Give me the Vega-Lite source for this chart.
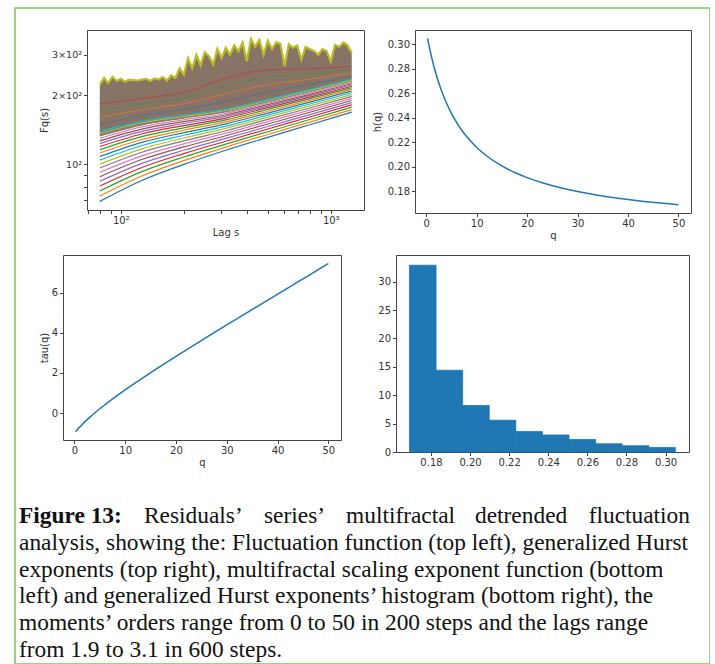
{
  "$schema": "https://vega.github.io/schema/vega-lite/v6.json",
  "background": "white",
  "padding": {"left": 15, "top": 8, "right": 0, "bottom": 0},
  "params": [{"name": "width", "value": 695}, {"name": "height", "value": 656}],
  "config": {
    "group": {"stroke": "#7cc35c", "strokeWidth": 1.5},
    "view": {"stroke": "#444444", "strokeWidth": 1},
    "axis": {"domain": false, "grid": false, "ticks": true, "tickSize": 3.5, "tickColor": "#444444", "tickWidth": 1,
      "labelFont": "DejaVu Sans", "labelFontSize": 10, "labelColor": "#333333", "labelPadding": 2,
      "titleFont": "DejaVu Sans", "titleFontSize": 10, "titleFontWeight": "normal", "titleColor": "#333333", "titlePadding": 2,
      "labelFlush": false, "labelOverlap": false},
    "text": {"font": "Liberation Serif", "fontSize": 23.4, "baseline": "alphabetic", "color": "#111111", "align": "left"}
  },
  "datasets": {
    "fq": [
      {"k":0,"s":79.4,"F":69.0},{"k":0,"s":125.9,"F":85.1},{"k":0,"s":199.5,"F":100},{"k":0,"s":316.2,"F":115.3},{"k":0,"s":501.2,"F":131.2},{"k":0,"s":794.3,"F":148.9},{"k":0,"s":1258.9,"F":169.0},
      {"k":1,"s":79.4,"F":72.8},{"k":1,"s":125.9,"F":89.0},{"k":1,"s":199.5,"F":103.8},{"k":1,"s":316.2,"F":119.0},{"k":1,"s":501.2,"F":135.0},{"k":1,"s":794.3,"F":152.9},{"k":1,"s":1258.9,"F":173.3},
      {"k":2,"s":79.4,"F":76.6},{"k":2,"s":125.9,"F":93.0},{"k":2,"s":199.5,"F":107.7},{"k":2,"s":316.2,"F":122.6},{"k":2,"s":501.2,"F":138.8},{"k":2,"s":794.3,"F":156.9},{"k":2,"s":1258.9,"F":177.5},
      {"k":3,"s":79.4,"F":80.5},{"k":3,"s":125.9,"F":97.0},{"k":3,"s":199.5,"F":111.5},{"k":3,"s":316.2,"F":126.2},{"k":3,"s":501.2,"F":142.6},{"k":3,"s":794.3,"F":160.9},{"k":3,"s":1258.9,"F":181.7},
      {"k":4,"s":79.4,"F":84.4},{"k":4,"s":125.9,"F":101.0},{"k":4,"s":199.5,"F":115.3},{"k":4,"s":316.2,"F":129.8},{"k":4,"s":501.2,"F":146.3},{"k":4,"s":794.3,"F":164.8},{"k":4,"s":1258.9,"F":185.8},
      {"k":5,"s":79.4,"F":88.4},{"k":5,"s":125.9,"F":105.0},{"k":5,"s":199.5,"F":119.2},{"k":5,"s":316.2,"F":133.3},{"k":5,"s":501.2,"F":150.0},{"k":5,"s":794.3,"F":168.7},{"k":5,"s":1258.9,"F":189.9},
      {"k":6,"s":79.4,"F":92.4},{"k":6,"s":125.9,"F":109.0},{"k":6,"s":199.5,"F":122.9},{"k":6,"s":316.2,"F":136.8},{"k":6,"s":501.2,"F":153.6},{"k":6,"s":794.3,"F":172.4},{"k":6,"s":1258.9,"F":193.9},
      {"k":7,"s":79.4,"F":96.4},{"k":7,"s":125.9,"F":113.0},{"k":7,"s":199.5,"F":126.6},{"k":7,"s":316.2,"F":140.2},{"k":7,"s":501.2,"F":157.1},{"k":7,"s":794.3,"F":176.1},{"k":7,"s":1258.9,"F":197.7},
      {"k":8,"s":79.4,"F":100.3},{"k":8,"s":125.9,"F":116.9},{"k":8,"s":199.5,"F":130.3},{"k":8,"s":316.2,"F":143.6},{"k":8,"s":501.2,"F":160.6},{"k":8,"s":794.3,"F":179.8},{"k":8,"s":1258.9,"F":201.5},
      {"k":9,"s":79.4,"F":104.4},{"k":9,"s":125.9,"F":120.9},{"k":9,"s":199.5,"F":134.0},{"k":9,"s":316.2,"F":146.9},{"k":9,"s":501.2,"F":164.0},{"k":9,"s":794.3,"F":183.3},{"k":9,"s":1258.9,"F":205.3},
      {"k":10,"s":79.4,"F":108.2},{"k":10,"s":125.9,"F":124.7},{"k":10,"s":199.5,"F":137.5},{"k":10,"s":316.2,"F":150.1},{"k":10,"s":501.2,"F":167.3},{"k":10,"s":794.3,"F":186.7},{"k":10,"s":1258.9,"F":208.8},
      {"k":11,"s":79.4,"F":112.1},{"k":11,"s":125.9,"F":128.4},{"k":11,"s":199.5,"F":140.9},{"k":11,"s":316.2,"F":153.2},{"k":11,"s":501.2,"F":170.5},{"k":11,"s":794.3,"F":190.0},{"k":11,"s":1258.9,"F":212.3},
      {"k":12,"s":79.4,"F":115.9},{"k":12,"s":125.9,"F":132.2},{"k":12,"s":199.5,"F":144.3},{"k":12,"s":316.2,"F":156.2},{"k":12,"s":501.2,"F":173.6},{"k":12,"s":794.3,"F":193.3},{"k":12,"s":1258.9,"F":215.7},
      {"k":13,"s":79.4,"F":119.6},{"k":13,"s":125.9,"F":135.7},{"k":13,"s":199.5,"F":147.6},{"k":13,"s":316.2,"F":159.1},{"k":13,"s":501.2,"F":176.6},{"k":13,"s":794.3,"F":196.4},{"k":13,"s":1258.9,"F":218.9},
      {"k":14,"s":79.4,"F":123.2},{"k":14,"s":125.9,"F":139.2},{"k":14,"s":199.5,"F":150.7},{"k":14,"s":316.2,"F":161.9},{"k":14,"s":501.2,"F":179.4},{"k":14,"s":794.3,"F":199.3},{"k":14,"s":1258.9,"F":221.9},
      {"k":15,"s":79.4,"F":126.6},{"k":15,"s":125.9,"F":142.4},{"k":15,"s":199.5,"F":153.6},{"k":15,"s":316.2,"F":164.5},{"k":15,"s":501.2,"F":182.1},{"k":15,"s":794.3,"F":202.0},{"k":15,"s":1258.9,"F":224.8},
      {"k":16,"s":79.4,"F":129.9},{"k":16,"s":125.9,"F":145.6},{"k":16,"s":199.5,"F":156.4},{"k":16,"s":316.2,"F":167.0},{"k":16,"s":501.2,"F":184.6},{"k":16,"s":794.3,"F":204.7},{"k":16,"s":1258.9,"F":227.5},
      {"k":17,"s":79.4,"F":133.1},{"k":17,"s":125.9,"F":148.6},{"k":17,"s":199.5,"F":159.2},{"k":17,"s":316.2,"F":169.5},{"k":17,"s":501.2,"F":187.1},{"k":17,"s":794.3,"F":207.2},{"k":17,"s":1258.9,"F":230.2},
      {"k":18,"s":79.4,"F":136.2},{"k":18,"s":125.9,"F":151.5},{"k":18,"s":199.5,"F":161.7},{"k":18,"s":316.2,"F":171.7},{"k":18,"s":501.2,"F":189.4},{"k":18,"s":794.3,"F":209.6},{"k":18,"s":1258.9,"F":232.6},
      {"k":19,"s":79.4,"F":139.0},{"k":19,"s":125.9,"F":154.1},{"k":19,"s":199.5,"F":164.1},{"k":19,"s":316.2,"F":173.8},{"k":19,"s":501.2,"F":191.4},{"k":19,"s":794.3,"F":211.7},{"k":19,"s":1258.9,"F":234.9},
      {"k":20,"s":79.4,"F":149.1},{"k":20,"s":125.9,"F":163.2},{"k":20,"s":199.5,"F":173.7},{"k":20,"s":316.2,"F":187.9},{"k":20,"s":501.2,"F":206.3},{"k":20,"s":794.3,"F":223.1},{"k":20,"s":1258.9,"F":242.5},
      {"k":21,"s":79.4,"F":160.0},{"k":21,"s":125.9,"F":172.9},{"k":21,"s":199.5,"F":183.9},{"k":21,"s":316.2,"F":203.1},{"k":21,"s":501.2,"F":222.3},{"k":21,"s":794.3,"F":235.0},{"k":21,"s":1258.9,"F":250.2},
      {"k":22,"s":79.4,"F":171.6},{"k":22,"s":125.9,"F":183.1},{"k":22,"s":199.5,"F":194.7},{"k":22,"s":316.2,"F":219.5},{"k":22,"s":501.2,"F":239.5},{"k":22,"s":794.3,"F":247.7},{"k":22,"s":1258.9,"F":258.3},
      {"k":23,"s":79.4,"F":184.1},{"k":23,"s":125.9,"F":193.9},{"k":23,"s":199.5,"F":206.1},{"k":23,"s":316.2,"F":237.3},{"k":23,"s":501.2,"F":258.1},{"k":23,"s":794.3,"F":261.0},{"k":23,"s":1258.9,"F":266.6}
    ],
    "band": [
      {"s":79.4,"top":222,"bot":133.1},{"s":83.2,"top":238,"bot":134.6},{"s":87.1,"top":226,"bot":136.1},{"s":91.2,"top":241,"bot":137.6},{"s":95.5,"top":231,"bot":139.1},
      {"s":100,"top":236,"bot":140.6},{"s":104.7,"top":229,"bot":142.2},{"s":109.6,"top":234,"bot":143.8},{"s":114.8,"top":233,"bot":145.4},{"s":120.2,"top":232,"bot":147.0},
      {"s":125.9,"top":234,"bot":148.6},{"s":131.8,"top":236,"bot":149.6},{"s":138.0,"top":231,"bot":150.6},{"s":144.5,"top":237,"bot":151.7},{"s":151.4,"top":234,"bot":152.7},
      {"s":158.5,"top":240,"bot":153.8},{"s":166.0,"top":232,"bot":154.8},{"s":173.8,"top":244,"bot":155.9},{"s":182.0,"top":238,"bot":157.0},{"s":190.5,"top":262,"bot":158.1},
      {"s":199.5,"top":246,"bot":159.2},{"s":208.9,"top":290,"bot":160.2},{"s":218.8,"top":262,"bot":161.2},{"s":229.1,"top":300,"bot":162.2},{"s":239.9,"top":270,"bot":163.2},
      {"s":251.2,"top":308,"bot":164.3},{"s":263.0,"top":296,"bot":165.3},{"s":275.4,"top":272,"bot":166.3},{"s":288.4,"top":318,"bot":167.4},{"s":302.0,"top":290,"bot":168.4},
      {"s":316.2,"top":322,"bot":169.5},{"s":331.1,"top":300,"bot":171.2},{"s":346.7,"top":330,"bot":172.9},{"s":363.1,"top":310,"bot":174.6},{"s":380.2,"top":340,"bot":176.3},
      {"s":398.1,"top":282,"bot":178.1},{"s":416.9,"top":352,"bot":179.8},{"s":436.5,"top":325,"bot":181.6},{"s":457.1,"top":348,"bot":183.4},{"s":478.6,"top":300,"bot":185.2},
      {"s":501.2,"top":346,"bot":187.1},{"s":524.8,"top":318,"bot":189.0},{"s":549.5,"top":340,"bot":190.9},{"s":575.4,"top":335,"bot":192.9},{"s":602.6,"top":268,"bot":194.9},
      {"s":631.0,"top":334,"bot":196.9},{"s":660.7,"top":322,"bot":198.9},{"s":691.8,"top":330,"bot":200.9},{"s":724.4,"top":286,"bot":203.0},{"s":758.6,"top":325,"bot":205.1},
      {"s":794.3,"top":318,"bot":207.2},{"s":831.8,"top":312,"bot":209.4},{"s":871.0,"top":300,"bot":211.6},{"s":912.0,"top":318,"bot":213.8},{"s":955.0,"top":312,"bot":216.0},
      {"s":1000,"top":280,"bot":218.3},{"s":1047,"top":332,"bot":220.6},{"s":1096,"top":325,"bot":222.9},{"s":1148,"top":340,"bot":225.3},{"s":1202,"top":330,"bot":227.7},
      {"s":1258.9,"top":306,"bot":230.2}
    ],
    "hq": [
      {"q":0.25,"h":0.3050,"tau":-0.924},{"q":0.5,"h":0.2998,"tau":-0.850},{"q":1,"h":0.2904,"tau":-0.710},{"q":1.5,"h":0.2822,"tau":-0.577},
      {"q":2,"h":0.2748,"tau":-0.450},{"q":3,"h":0.2623,"tau":-0.213},{"q":4,"h":0.2521,"tau":0.008},{"q":5,"h":0.2435,"tau":0.218},
      {"q":6,"h":0.2363,"tau":0.418},{"q":7,"h":0.2301,"tau":0.611},{"q":8,"h":0.2247,"tau":0.798},{"q":10,"h":0.2158,"tau":1.158},
      {"q":12,"h":0.2088,"tau":1.506},{"q":14,"h":0.2031,"tau":1.843},{"q":16,"h":0.1984,"tau":2.174},{"q":18,"h":0.1945,"tau":2.501},
      {"q":20,"h":0.1911,"tau":2.822},{"q":23,"h":0.1869,"tau":3.299},{"q":26,"h":0.1835,"tau":3.771},{"q":30,"h":0.1798,"tau":4.394},
      {"q":34,"h":0.1768,"tau":5.011},{"q":38,"h":0.1743,"tau":5.623},{"q":42,"h":0.1722,"tau":6.232},{"q":46,"h":0.1705,"tau":6.843},{"q":50,"h":0.1690,"tau":7.450}
    ],
    "hist": [
      {"x0":0.1690,"x1":0.1826,"d":32.9},{"x0":0.1826,"x1":0.1962,"d":14.4},{"x0":0.1962,"x1":0.2098,"d":8.2},{"x0":0.2098,"x1":0.2234,"d":5.6},
      {"x0":0.2234,"x1":0.2370,"d":3.6},{"x0":0.2370,"x1":0.2506,"d":3.0},{"x0":0.2506,"x1":0.2642,"d":2.2},{"x0":0.2642,"x1":0.2778,"d":1.45},
      {"x0":0.2778,"x1":0.2914,"d":1.1},{"x0":0.2914,"x1":0.3050,"d":0.8}
    ],
    "caption": [
      {"line":1,"part":"label","text":"Figure 13:"},
      {"line":1,"part":"w1","text":"Residuals’"},
      {"line":1,"part":"w2","text":"series’"},
      {"line":1,"part":"w3","text":"multifractal"},
      {"line":1,"part":"w4","text":"detrended"},
      {"line":1,"part":"w5","text":"fluctuation"},
      {"line":2,"part":"body","text":"analysis, showing the: Fluctuation function (top left), generalized Hurst"},
      {"line":3,"part":"body","text":"exponents (top right), multifractal scaling exponent function (bottom"},
      {"line":4,"part":"body","text":"left) and generalized Hurst exponents’ histogram (bottom right), the"},
      {"line":5,"part":"body","text":"moments’ orders range from 0 to 50 in 200 steps and the lags range"},
      {"line":6,"part":"body","text":"from 1.9 to 3.1 in 600 steps."}
    ]
  },
  "spacing": 13,
  "vconcat": [
    {"width": 10, "height": 8, "data": {"values": [{"a": 0}]}, "mark": {"type": "point", "opacity": 0}, "encoding": {}, "view": {"stroke": null}},
    {
      "spacing": 6,
      "hconcat": [
        {"width": 17, "height": 10, "data": {"values": [{"a": 0}]}, "mark": {"type": "point", "opacity": 0}, "encoding": {}, "view": {"stroke": null}},
        {
          "width": 277, "height": 180,
          "layer": [
            {
              "data": {"name": "band"},
              "mark": {"type": "area", "color": "#887366"},
              "encoding": {
                "x": {"field": "s", "type": "quantitative", "scale": {"type": "log", "domain": [69, 1440], "nice": false},
                  "axis": {"title": "Lag s", "values": [70,80,90,100,200,300,400,500,600,700,800,900,1000], "labelExpr": "datum.value == 100 ? '10²' : datum.value == 1000 ? '10³' : ''"}},
                "y": {"field": "top", "type": "quantitative", "scale": {"type": "log", "domain": [63.3, 385], "nice": false},
                  "axis": {"title": "Fq(s)", "values": [70,80,90,100,200,300], "labelExpr": "datum.value == 100 ? '10²' : datum.value == 200 ? '2×10²' : datum.value == 300 ? '3×10²' : ''", "labelFontSize": 9.5, "minExtent": 34, "maxExtent": 34, "titlePadding": 4}},
                "y2": {"field": "bot"}
              }
            },
            {
              "data": {"name": "fq"},
              "transform": [{"filter": "datum.k <= 19"}],
              "mark": {"type": "line", "strokeWidth": 1.2, "interpolate": "monotone"},
              "encoding": {
                "x": {"field": "s", "type": "quantitative"},
                "y": {"field": "F", "type": "quantitative"},
                "color": {"field": "k", "type": "nominal", "legend": null,
                  "scale": {"range": ["#1f77b4","#ff7f0e","#2ca02c","#d62728","#9467bd","#8c564b","#e377c2","#7f7f7f","#bcbd22","#17becf"]}}
              }
            },
            {
              "data": {"name": "fq"},
              "transform": [{"filter": "datum.k >= 20"}],
              "mark": {"type": "line", "strokeWidth": 1, "opacity": 0.55, "interpolate": "monotone"},
              "encoding": {
                "x": {"field": "s", "type": "quantitative"},
                "y": {"field": "F", "type": "quantitative"},
                "color": {"field": "k", "type": "nominal", "legend": null}
              }
            },
            {
              "data": {"name": "band"},
              "mark": {"type": "line", "color": "#bcbd22", "strokeWidth": 2.2},
              "encoding": {
                "x": {"field": "s", "type": "quantitative"},
                "y": {"field": "top", "type": "quantitative"}
              }
            }
          ]
        },
        {
          "width": 276, "height": 183,
          "data": {"name": "hq"},
          "mark": {"type": "line", "color": "#1f77b4", "strokeWidth": 1.5, "interpolate": "monotone"},
          "encoding": {
            "x": {"field": "q", "type": "quantitative", "scale": {"domain": [-2.24, 52.49], "nice": false, "zero": false},
              "axis": {"title": "q", "values": [0,10,20,30,40,50]}},
            "y": {"field": "h", "type": "quantitative", "scale": {"domain": [0.1622, 0.3118], "nice": false, "zero": false},
              "axis": {"title": "h(q)", "values": [0.18,0.20,0.22,0.24,0.26,0.28,0.30], "format": ".2f", "minExtent": 29, "maxExtent": 29, "titlePadding": 4}}
          }
        }
      ]
    },
    {
      "spacing": 5,
      "hconcat": [
        {"width": 18, "height": 10, "data": {"values": [{"a": 0}]}, "mark": {"type": "point", "opacity": 0}, "encoding": {}, "view": {"stroke": null}},
        {
          "width": 278, "height": 185,
          "data": {"name": "hq"},
          "mark": {"type": "line", "color": "#1f77b4", "strokeWidth": 1.5, "interpolate": "monotone"},
          "encoding": {
            "x": {"field": "q", "type": "quantitative", "scale": {"domain": [-2.24, 52.49], "nice": false, "zero": false},
              "axis": {"title": "q", "values": [0,10,20,30,40,50]}},
            "y": {"field": "tau", "type": "quantitative", "scale": {"domain": [-1.34, 7.88], "nice": false, "zero": false},
              "axis": {"title": "tau(q)", "values": [0,2,4,6], "minExtent": 10, "maxExtent": 10, "titlePadding": 4}}
          }
        },
        {"width": 25, "height": 10, "data": {"values": [{"a": 0}]}, "mark": {"type": "point", "opacity": 0}, "encoding": {}, "view": {"stroke": null}},
        {
          "width": 293, "height": 197,
          "data": {"name": "hist"},
          "mark": {"type": "rect", "color": "#1f77b4", "stroke": "#1f77b4", "strokeWidth": 0.8},
          "encoding": {
            "x": {"field": "x0", "type": "quantitative", "scale": {"domain": [0.1621, 0.3120], "nice": false, "zero": false},
              "axis": {"title": null, "values": [0.18,0.20,0.22,0.24,0.26,0.28,0.30], "format": ".2f"}},
            "x2": {"field": "x1"},
            "y": {"field": "d", "type": "quantitative", "scale": {"domain": [0, 34.7], "nice": false},
              "axis": {"title": null, "values": [0,5,10,15,20,25,30], "minExtent": 18, "maxExtent": 18}},
            "y2": {"datum": 0}
          }
        }
      ]
    },
    {
      "width": 690, "height": 182,
      "data": {"name": "caption"},
      "view": {"stroke": null},
      "encoding": {
        "x": {"value": 0},
        "y": {"field": "line", "type": "quantitative", "scale": {"domain": [-0.567, 6.224], "reverse": true, "nice": false, "zero": false}, "axis": null},
        "text": {"field": "text"}
      },
      "layer": [
        {"transform": [{"filter": "datum.part == 'label'"}], "mark": {"type": "text", "fontWeight": "bold", "dx": 4}},
        {"transform": [{"filter": "datum.part == 'w1'"}], "mark": {"type": "text", "dx": 129}},
        {"transform": [{"filter": "datum.part == 'w2'"}], "mark": {"type": "text", "dx": 249}},
        {"transform": [{"filter": "datum.part == 'w3'"}], "mark": {"type": "text", "dx": 331}},
        {"transform": [{"filter": "datum.part == 'w4'"}], "mark": {"type": "text", "dx": 460}},
        {"transform": [{"filter": "datum.part == 'w5'"}], "mark": {"type": "text", "align": "right", "dx": 675}},
        {"transform": [{"filter": "datum.part == 'body'"}], "mark": {"type": "text", "dx": 4}}
      ]
    }
  ]
}
